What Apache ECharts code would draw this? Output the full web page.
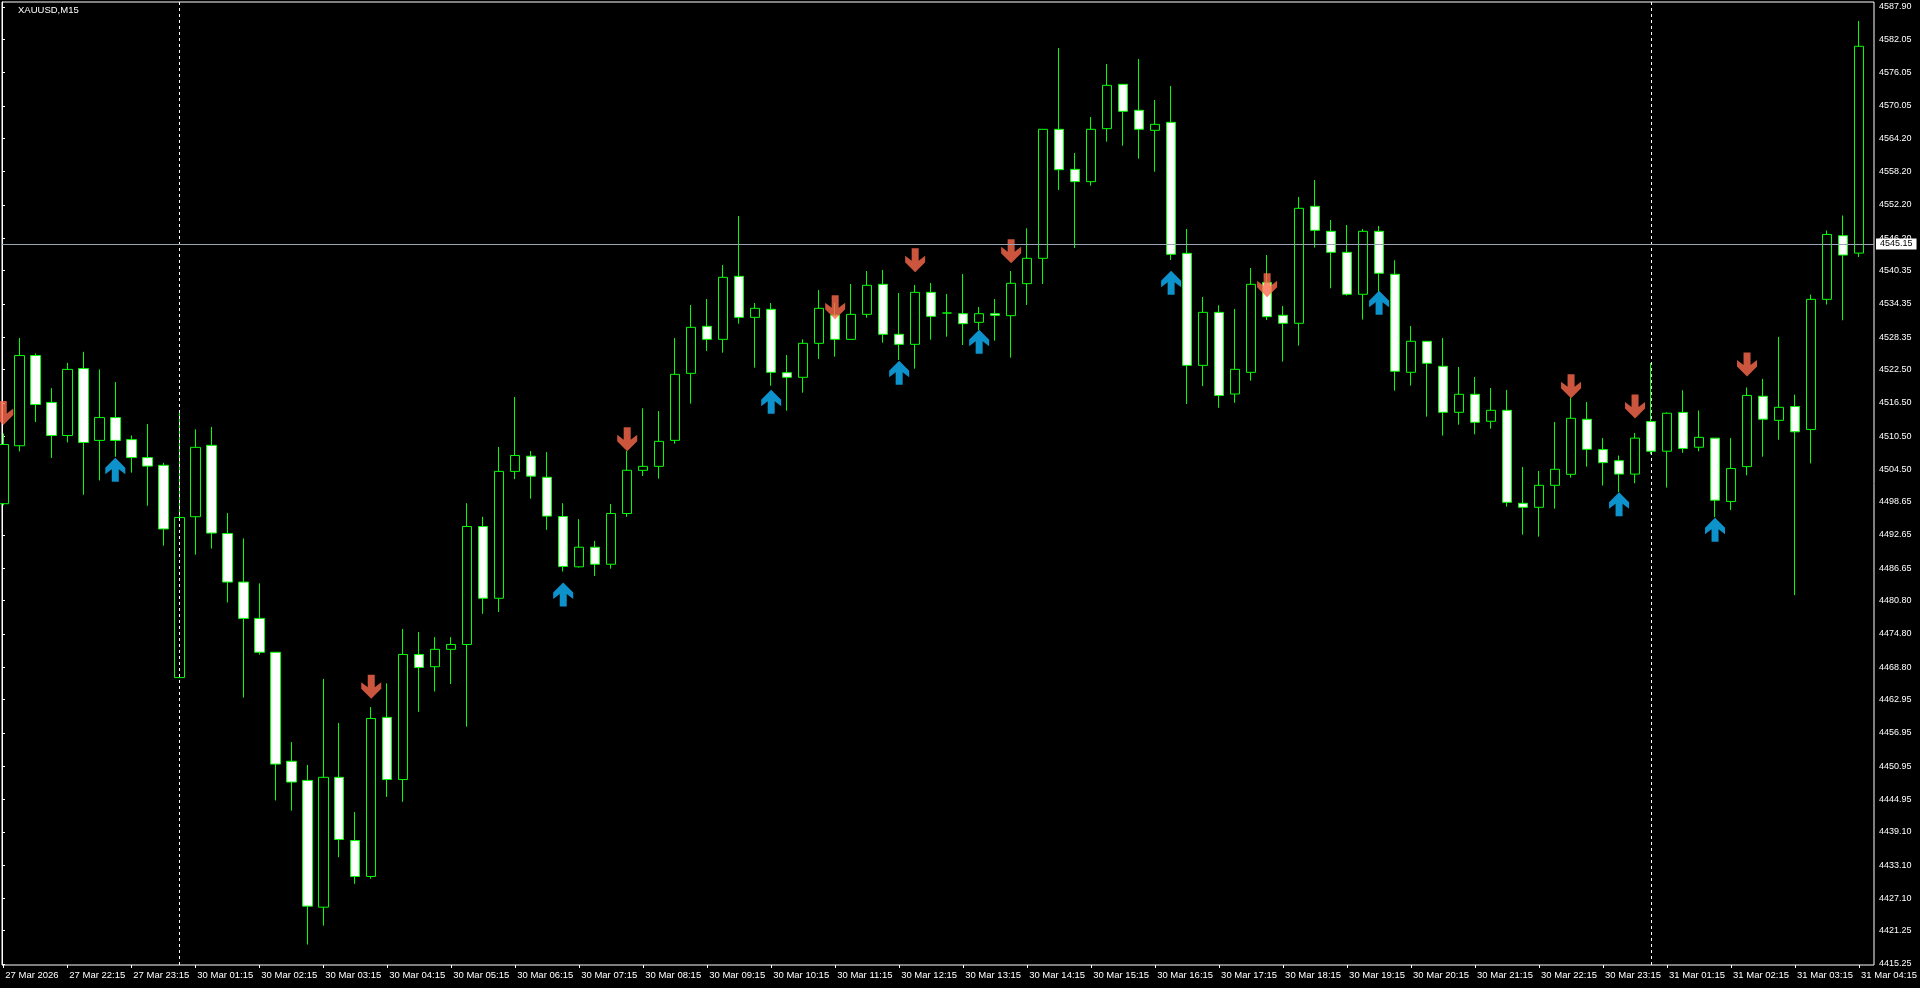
<!DOCTYPE html>
<html>
<head>
<meta charset="utf-8">
<title>XAUUSD,M15</title>
<script src="https://cdn.jsdelivr.net/npm/echarts@6/dist/echarts.min.js"></script>
<style>
  html, body { margin: 0; padding: 0; background: #000; }
  #main { width: 1920px; height: 988px; }
</style>
</head>
<body>
<div id="main"></div>
<script>
  // M15 bars, three trading sessions
  const sessions = [
    { day: '27 Mar', start: 21 * 60 + 15, bars: 11 },
    { day: '30 Mar', start: 60, bars: 92 },
    { day: '31 Mar', start: 60, bars: 14 }
  ]
  const categories = []
  sessions.forEach(s => {
    for (let k = 0; k < s.bars; k++) {
      const m = s.start + 15 * k
      categories.push(s.day + ' ' + String(Math.floor(m / 60)).padStart(2, '0') + ':' + String(m % 60).padStart(2, '0'))
    }
  })
  const dayStarts = ['30 Mar 01:00', '31 Mar 01:00']

  // one label every 4 bars
  const xLabels = ['27 Mar 2026', '27 Mar 22:15', '27 Mar 23:15', '30 Mar 01:15', '30 Mar 02:15', '30 Mar 03:15',
    '30 Mar 04:15', '30 Mar 05:15', '30 Mar 06:15', '30 Mar 07:15', '30 Mar 08:15', '30 Mar 09:15', '30 Mar 10:15',
    '30 Mar 11:15', '30 Mar 12:15', '30 Mar 13:15', '30 Mar 14:15', '30 Mar 15:15', '30 Mar 16:15', '30 Mar 17:15',
    '30 Mar 18:15', '30 Mar 19:15', '30 Mar 20:15', '30 Mar 21:15', '30 Mar 22:15', '30 Mar 23:15', '31 Mar 01:15',
    '31 Mar 02:15', '31 Mar 03:15', '31 Mar 04:15']

  const yTicks = [4587.90, 4582.05, 4576.05, 4570.05, 4564.20, 4558.20, 4552.20, 4546.20, 4540.35, 4534.35,
    4528.35, 4522.50, 4516.50, 4510.50, 4504.50, 4498.65, 4492.65, 4486.65, 4480.80, 4474.80, 4468.80, 4462.95,
    4456.95, 4450.95, 4444.95, 4439.10, 4433.10, 4427.10, 4421.25, 4415.25]
  const yMin = 4415.07
  const yMax = 4588.80
  const lastPrice = 4545.15

  const opens = [
    4498.29, 4508.75, 4525.02, 4516.56, 4510.59, 4522.67, 4509.71, 4513.83, 4509.85, 4506.61,
    4505.22, 4466.92, 4495.94, 4508.82, 4492.92, 4484.15, 4477.60, 4471.49, 4451.83, 4448.37,
    4425.50, 4448.93, 4437.52, 4431.04, 4459.74, 4448.53, 4471.09, 4468.88, 4472.02, 4472.89,
    4494.18, 4481.23, 4504.12, 4506.86, 4503.06, 4495.98, 4486.90, 4490.44, 4487.37, 4496.52,
    4504.31, 4505.03, 4509.72, 4521.81, 4530.29, 4527.94, 4539.31, 4531.91, 4533.36, 4521.93,
    4521.09, 4527.22, 4532.33, 4527.94, 4532.45, 4537.87, 4528.85, 4527.04, 4536.42, 4532.69,
    4532.57, 4531.01, 4532.57, 4532.21, 4537.99, 4542.56, 4565.83, 4558.61, 4556.39, 4565.95,
    4573.95, 4569.26, 4565.65, 4567.09, 4543.46, 4523.25, 4532.81, 4518.08, 4521.99, 4538.20,
    4532.28, 4530.84, 4551.94, 4547.43, 4543.64, 4536.07, 4547.43, 4539.68, 4522.00, 4527.59,
    4523.08, 4514.78, 4518.03, 4513.16, 4515.14, 4498.36, 4497.64, 4501.61, 4503.59, 4513.52,
    4508.05, 4506.05, 4503.63, 4513.11, 4507.76, 4514.76, 4508.48, 4510.12, 4498.70, 4504.98,
    4517.68, 4513.33, 4515.83, 4511.69, 4535.16, 4546.64, 4543.50]
  const closes = [
    4508.97, 4525.02, 4516.19, 4510.59, 4522.52, 4509.34, 4513.83, 4509.71, 4506.61, 4505.07,
    4493.73, 4495.79, 4508.46, 4492.99, 4484.15, 4477.60, 4471.49, 4451.31, 4448.07, 4425.69,
    4448.93, 4437.72, 4431.04, 4459.54, 4448.53, 4471.09, 4468.75, 4472.02, 4472.89, 4494.18,
    4481.23, 4504.12, 4506.99, 4503.26, 4496.05, 4486.97, 4490.44, 4487.37, 4496.52, 4504.32,
    4505.03, 4509.54, 4521.63, 4530.11, 4527.94, 4539.13, 4531.91, 4533.54, 4521.99, 4521.09,
    4527.22, 4533.54, 4527.94, 4532.45, 4537.69, 4528.85, 4527.04, 4536.42, 4532.09, 4532.69,
    4530.77, 4532.57, 4532.27, 4538.05, 4542.56, 4565.83, 4558.55, 4556.39, 4565.83, 4573.77,
    4569.08, 4565.83, 4566.73, 4543.28, 4523.25, 4532.81, 4517.81, 4522.53, 4537.87, 4532.03,
    4530.84, 4551.58, 4547.61, 4543.64, 4536.07, 4547.43, 4539.86, 4522.18, 4527.59, 4523.62,
    4514.78, 4518.03, 4512.98, 4515.14, 4498.54, 4497.64, 4501.61, 4504.50, 4513.70, 4508.10,
    4505.70, 4503.63, 4510.12, 4507.76, 4514.61, 4508.26, 4510.26, 4498.92, 4504.63, 4517.82,
    4513.54, 4515.68, 4511.26, 4535.16, 4546.86, 4543.15, 4580.81]
  const lows = [
    4498.00, 4507.72, 4513.02, 4506.54, 4509.34, 4499.91, 4502.49, 4506.76, 4503.89, 4497.92,
    4490.71, 4466.92, 4489.09, 4490.19, 4480.47, 4463.32, 4471.05, 4444.76, 4442.92, 4418.76,
    4422.17, 4434.51, 4429.71, 4430.64, 4445.39, 4444.52, 4460.74, 4464.41, 4465.75, 4458.07,
    4478.43, 4478.76, 4502.72, 4499.19, 4493.58, 4486.04, 4486.77, 4485.24, 4486.57, 4495.92,
    4503.29, 4502.81, 4509.12, 4516.34, 4525.84, 4525.54, 4530.77, 4522.83, 4519.58, 4515.07,
    4518.32, 4524.40, 4524.82, 4527.82, 4531.85, 4527.34, 4524.21, 4522.65, 4527.88, 4528.42,
    4526.92, 4529.63, 4527.70, 4524.64, 4534.14, 4537.93, 4554.88, 4544.42, 4555.67, 4563.60,
    4562.88, 4560.54, 4558.19, 4542.26, 4516.28, 4519.50, 4515.60, 4516.50, 4520.49, 4531.43,
    4523.92, 4526.81, 4544.49, 4537.15, 4535.83, 4531.50, 4536.55, 4518.69, 4519.59, 4514.00,
    4510.57, 4512.55, 4510.81, 4511.83, 4497.76, 4492.71, 4492.35, 4497.40, 4502.99, 4504.98,
    4501.56, 4500.35, 4501.99, 4507.20, 4501.20, 4507.48, 4507.76, 4495.85, 4497.14, 4503.41,
    4506.77, 4509.83, 4481.80, 4505.55, 4534.23, 4531.38, 4542.79]
  const highs = [
    4510.96, 4528.19, 4525.39, 4519.13, 4523.70, 4525.69, 4522.52, 4520.24, 4510.59, 4512.65,
    4505.66, 4514.64, 4511.70, 4512.14, 4496.60, 4492.03, 4483.93, 4471.50, 4455.29, 4451.16,
    4466.68, 4458.74, 4442.66, 4461.61, 4465.88, 4475.69, 4475.16, 4474.22, 4474.22, 4498.39,
    4495.92, 4508.53, 4517.54, 4507.80, 4507.60, 4498.39, 4495.51, 4491.58, 4498.25, 4507.80,
    4515.50, 4515.01, 4528.18, 4534.14, 4535.22, 4541.35, 4550.19, 4534.50, 4534.50, 4525.12,
    4527.94, 4536.84, 4534.50, 4537.93, 4540.27, 4540.45, 4536.30, 4537.75, 4538.11, 4536.12,
    4539.73, 4533.78, 4535.22, 4540.27, 4547.97, 4565.83, 4580.50, 4561.56, 4568.05, 4577.62,
    4573.95, 4578.52, 4571.12, 4573.65, 4547.85, 4535.58, 4534.08, 4533.42, 4540.81, 4543.16,
    4533.96, 4553.63, 4556.69, 4549.48, 4548.58, 4547.85, 4548.40, 4542.20, 4530.35, 4527.60,
    4528.19, 4522.96, 4521.15, 4519.17, 4518.81, 4504.92, 4504.20, 4513.04, 4517.43, 4516.64,
    4510.12, 4506.98, 4511.05, 4523.67, 4514.76, 4518.75, 4515.11, 4510.12, 4510.12, 4519.25,
    4520.82, 4528.38, 4517.97, 4536.01, 4547.57, 4550.28, 4585.38]

  // signal arrows: [bar index, price]
  const upArrows = [[7, 4504.41], [35, 4481.90], [48, 4516.70], [56, 4521.93], [61, 4527.52],
    [73, 4538.17], [86, 4534.56], [101, 4498.21], [107, 4493.57]]
  const downArrows = [[0, 4514.65], [23, 4465.28], [39, 4509.93], [52, 4533.72], [57, 4542.20],
    [63, 4543.82], [79, 4537.69], [98, 4519.47], [102, 4515.83], [109, 4523.39]]

  // thick arrow glyphs
  const upPath = 'path://M10,0 L20,10 L20,16.5 L13.5,11.5 L13.5,24 L6.5,24 L6.5,11.5 L0,16.5 L0,10 Z'
  const downPath = 'path://M10,24 L20,14 L20,7.5 L13.5,12.5 L13.5,0 L6.5,0 L6.5,12.5 L0,7.5 L0,14 Z'

  const ohlc = opens.map((o, i) => [o, closes[i], lows[i], highs[i]])

  const chart = echarts.init(document.getElementById('main'))
  chart.setOption({
    backgroundColor: '#000',
    animation: false,
    textStyle: { fontFamily: 'Liberation Sans' },
    title: {
      text: 'XAUUSD,M15',
      left: 18,
      top: 5,
      padding: 0,
      textStyle: { color: '#fff', fontSize: 9.5, fontWeight: 'normal', fontFamily: 'Liberation Sans' }
    },
    grid: [
      // bar centres: first bar at x=3.3, 16px apart
      { left: 3.3, right: 60.7, top: 2, bottom: 23 },
      // frame + price scale
      { left: 2, right: 46, top: 2, bottom: 23, show: true, borderColor: '#fff', borderWidth: 1, backgroundColor: 'transparent' }
    ],
    xAxis: [
      {
        type: 'category',
        gridIndex: 0,
        data: categories,
        boundaryGap: false,
        axisLine: { show: false },
        axisTick: { show: true, interval: 3, length: 3, lineStyle: { color: '#fff' } },
        axisLabel: {
          interval: 3,
          align: 'left',
          color: '#fff',
          fontSize: 9.5,
          margin: 5,
          padding: [0, 0, 0, 2],
          formatter: (v, idx) => xLabels[idx / 4]
        },
        splitLine: { show: false }
      },
      { type: 'value', gridIndex: 1, show: false, min: 0, max: 1 }
    ],
    yAxis: [
      { type: 'value', gridIndex: 0, show: false, min: yMin, max: yMax, splitLine: { show: false } },
      {
        type: 'value',
        gridIndex: 1,
        position: 'right',
        min: yMin,
        max: yMax,
        axisLine: { show: true, lineStyle: { color: '#fff' } },
        axisTick: { show: true, length: 3, customValues: yTicks, lineStyle: { color: '#fff' } },
        axisLabel: { color: '#fff', fontSize: 9, margin: 5, customValues: yTicks, formatter: v => v.toFixed(2) },
        splitLine: { show: false }
      }
    ],
    series: [
      {
        name: 'XAUUSD',
        type: 'candlestick',
        xAxisIndex: 0,
        yAxisIndex: 0,
        data: ohlc,
        barWidth: 10,
        clip: false,
        itemStyle: {
          color: '#000',
          color0: '#fff',
          borderColor: '#00ff00',
          borderColor0: '#00ff00',
          borderWidth: 1
        },
        markLine: {
          silent: true,
          symbol: ['none', 'none'],
          label: { show: false },
          lineStyle: { color: '#fff', type: [3, 3], width: 1 },
          data: dayStarts.map(d => ({ xAxis: d }))
        }
      },
      {
        name: 'up',
        type: 'scatter',
        xAxisIndex: 0,
        yAxisIndex: 0,
        data: upArrows,
        symbol: upPath,
        symbolSize: [20, 24],
        itemStyle: { color: '#12b6ff' },
        z: 4
      },
      {
        name: 'down',
        type: 'scatter',
        xAxisIndex: 0,
        yAxisIndex: 0,
        data: downArrows,
        symbol: downPath,
        symbolSize: [20, 24],
        itemStyle: { color: '#ff6a4d' },
        z: 4
      },
      {
        name: 'bid',
        type: 'line',
        xAxisIndex: 1,
        yAxisIndex: 1,
        data: [],
        markLine: {
          silent: true,
          symbol: ['none', 'none'],
          lineStyle: { color: '#9aa5b1', type: 'solid', width: 1 },
          label: {
            position: 'end',
            distance: 2,
            formatter: lastPrice.toFixed(2),
            backgroundColor: '#fff',
            color: '#000',
            fontSize: 9,
            padding: [1, 4, 1, 4]
          },
          data: [{ yAxis: lastPrice }]
        }
      }
    ]
  })
</script>
</body>
</html>
